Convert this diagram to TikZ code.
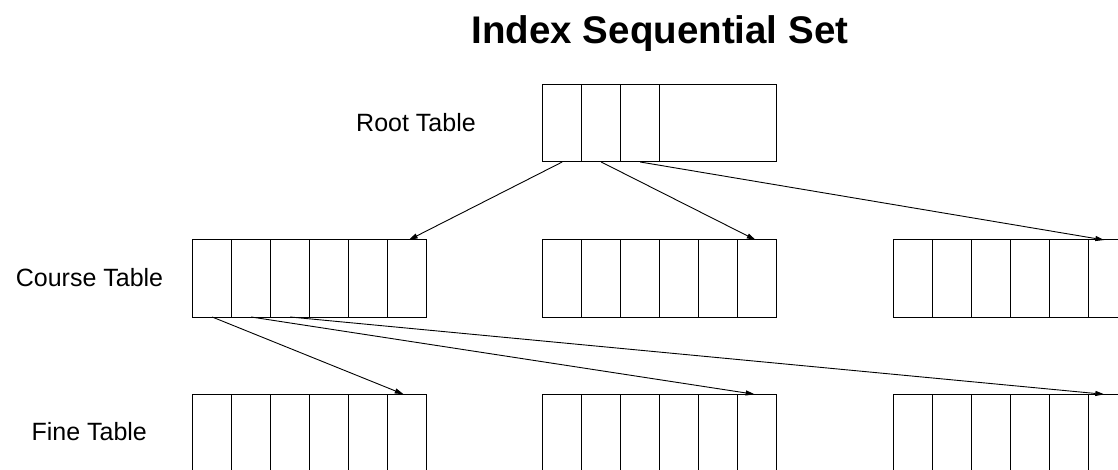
\documentclass[tikz,border=0pt]{standalone}
\usepackage{fontspec}
\setmainfont{Liberation Sans}
\usetikzlibrary{arrows.meta}
\begin{document}
\begin{tikzpicture}[x=1pt,y=-1pt,line width=1pt,
  tablebox/.style={draw=black, minimum height=77pt, inner sep=0pt, outer sep=0pt, anchor=north west},
  sixcell/.style={tablebox, minimum width=234pt,
    path picture={\foreach \i in {1,...,5}{\draw[line width=1pt] ([xshift=\i*39pt]path picture bounding box.north west) -- ([xshift=\i*39pt]path picture bounding box.south west);}}},
  rootcell/.style={tablebox, minimum width=234pt,
    path picture={\foreach \i in {1,...,3}{\draw[line width=1pt] ([xshift=\i*39pt]path picture bounding box.north west) -- ([xshift=\i*39pt]path picture bounding box.south west);}}},
  finecell/.style={sixcell, minimum height=90pt},
  link/.style={draw=black, line width=0.9pt, -{Triangle[length=9pt,width=5pt]}},
  label/.style={anchor=base, inner sep=0pt, font=\fontsize{25}{30}\selectfont},
  titletext/.style={anchor=base, inner sep=0pt, font=\fontsize{38.5}{46}\selectfont\bfseries}]
\useasboundingbox (0,0) rectangle (1118,470);
\clip (0,0) rectangle (1118,470);

\node[titletext] (title) at (660,44) {Index Sequential Set};

\node[label] (rootlbl) at (416,131.7) {Root Table};
\node[label] (courselbl) at (89.5,286.7) {Course Table};
\node[label] (finelbl) at (89.2,440.7) {Fine Table};

\node[rootcell] (root) at (542.7,85) {};
\node[sixcell] (c1) at (192.7,240) {};
\node[sixcell] (c2) at (542.7,240) {};
\node[sixcell] (c3) at (893.3,240) {};
\node[finecell] (f1) at (192.7,394.3) {};
\node[finecell] (f2) at (542.7,394.3) {};
\node[finecell] (f3) at (893.3,394.3) {};

% start points (cell centres on bottom edges)
\coordinate (r1) at ([xshift=19.5pt]root.south west);
\coordinate (r2) at ([xshift=58.5pt]root.south west);
\coordinate (r3) at ([xshift=97.5pt]root.south west);
\coordinate (k1) at ([xshift=19.5pt]c1.south west);
\coordinate (k2) at ([xshift=58.5pt]c1.south west);
\coordinate (k3) at ([xshift=97.5pt]c1.south west);
% end points (last cell on top edges)
\coordinate (e1) at ([xshift=-18pt]c1.north east);
\coordinate (e2) at ([xshift=-21pt]c2.north east);
\coordinate (e3) at ([xshift=-23pt]c3.north east);
\coordinate (g1) at ([xshift=-23pt]f1.north east);
\coordinate (g2) at ([xshift=-22pt]f2.north east);
\coordinate (g3) at ([xshift=-23pt]f3.north east);

\draw[link] (r1) -- (e1);
\draw[link] (r2) -- (e2);
\draw[link] (r3) -- (e3);
\draw[link] (k1) -- (g1);
\draw[link] (k2) -- (g2);
\draw[link] (k3) -- (g3);
\end{tikzpicture}
\end{document}
